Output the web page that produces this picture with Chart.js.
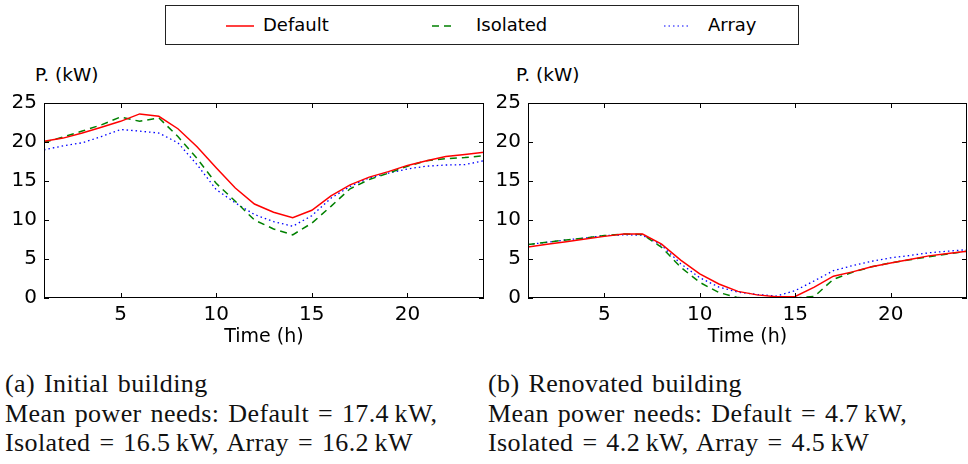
<!DOCTYPE html>
<html>
<head>
<meta charset="utf-8">
<script src="https://cdn.jsdelivr.net/npm/chart.js@4.4.1/dist/chart.umd.min.js"></script>
<style>
  body { margin: 0; background: #fff; width: 968px; height: 464px; position: relative; overflow: hidden; }
  canvas { position: absolute; }
  .ylab { position: absolute; font: 18.5px "DejaVu Sans"; color: #000; top: 64px; }
  .legend { position: absolute; left: 165px; top: 5px; width: 634px; height: 40px; border: 1px solid #222; box-sizing: border-box; }
  .legend span { position: absolute; font: 18px "DejaVu Sans"; top: 8px; }
  .legend svg { position: absolute; top: 0; }
  .caption { position: absolute; top: 369px; font: 26px "Liberation Serif"; letter-spacing: 0.4px; word-spacing: 2px; line-height: 29.5px; color: #111; white-space: nowrap; }
</style>
</head>
<body>

<div class="legend">
  <svg width="40" height="40" style="left:59px"><line x1="1" y1="20" x2="29" y2="20" stroke="#ff0000" stroke-width="1.5"/></svg>
  <span style="left:97px">Default</span>
  <svg width="40" height="40" style="left:265px"><line x1="1" y1="20" x2="24" y2="20" stroke="#008000" stroke-width="1.5" stroke-dasharray="7,5"/></svg>
  <span style="left:310px">Isolated</span>
  <svg width="40" height="40" style="left:497px"><line x1="1" y1="20" x2="27" y2="20" stroke="#0000ff" stroke-width="1.2" stroke-dasharray="1.5,3"/></svg>
  <span style="left:542px">Array</span>
</div>

<div class="ylab" style="left:35px">P. (kW)</div>
<div class="ylab" style="left:516px">P. (kW)</div>

<canvas id="initial" width="490" height="290" style="left:0; top:60px"></canvas>
<canvas id="renovated" width="490" height="290" style="left:478px; top:60px"></canvas>

<div class="caption" style="left:5px">(a) Initial building<br>Mean power needs: Default = 17.4&#8201;kW,<br>Isolated = 16.5&#8201;kW, Array = 16.2&#8201;kW</div>
<div class="caption" style="left:488px">(b) Renovated building<br>Mean power needs: Default = 4.7&#8201;kW,<br>Isolated = 4.2&#8201;kW, Array = 4.5&#8201;kW</div>

<script>
// hours of the day
const hours = [1, 2, 3, 4, 5, 6, 7, 8, 9, 10, 11, 12, 13, 14, 15, 16, 17, 18, 19, 20, 21, 22, 23, 24];
const xTicks = [5, 10, 15, 20];
const yTicks = [0, 5, 10, 15, 20, 25];

// initial building, power in kW
const initialDefault  = [20.1, 20.5, 21.15, 21.9, 22.65, 23.6, 23.3, 21.7, 19.4, 16.7, 14.1, 12.05, 11.0, 10.3, 11.25, 13.1, 14.5, 15.5, 16.2, 17.0, 17.6, 18.15, 18.4, 18.7];
const initialIsolated = [19.95, 20.65, 21.4, 22.2, 23.2, 22.65, 23.1, 20.7, 17.9, 14.7, 12.4, 10.0, 8.85, 8.1, 9.6, 11.75, 14.0, 15.2, 16.0, 16.9, 17.6, 17.85, 18.0, 18.25];
const initialArray    = [19.0, 19.5, 19.9, 20.7, 21.6, 21.4, 21.15, 19.9, 17.1, 13.9, 12.2, 10.7, 9.8, 9.2, 10.55, 12.8, 14.3, 15.4, 16.0, 16.55, 16.9, 17.05, 17.1, 17.6];

// renovated building, power in kW
const renovDefault  = [6.55, 6.9, 7.2, 7.55, 7.9, 8.2, 8.2, 6.9, 4.85, 3.1, 1.8, 0.85, 0.4, 0.15, 0.2, 1.4, 2.8, 3.35, 4.0, 4.5, 4.95, 5.4, 5.7, 6.0];
const renovIsolated = [6.85, 7.15, 7.45, 7.7, 8.0, 8.2, 8.15, 6.5, 3.95, 2.0, 0.7, 0.05, 0, 0, 0, 0.2, 2.4, 3.3, 4.0, 4.5, 4.9, 5.3, 5.65, 6.0];
const renovArray    = [6.85, 7.15, 7.45, 7.7, 8.0, 8.1, 8.05, 6.75, 4.4, 2.6, 1.4, 0.75, 0.45, 0.25, 0.95, 2.2, 3.5, 4.15, 4.7, 5.15, 5.45, 5.8, 6.0, 6.2];

// box around the plot with inward ticks on every side
const frame = {
  id: 'frame',
  afterDraw(chart) {
    const { ctx, chartArea: a, scales } = chart;
    const len = 5;
    ctx.save();
    ctx.strokeStyle = '#000';
    ctx.lineWidth = 1;
    ctx.strokeRect(a.left + 0.5, a.top + 0.5, a.right - a.left - 1, a.bottom - a.top - 1);
    ctx.beginPath();
    xTicks.forEach(v => {
      const x = Math.round(scales.x.getPixelForValue(v)) + 0.5;
      ctx.moveTo(x, a.bottom); ctx.lineTo(x, a.bottom - len);
      ctx.moveTo(x, a.top); ctx.lineTo(x, a.top + len);
    });
    yTicks.forEach(v => {
      const y = Math.round(scales.y.getPixelForValue(v)) + 0.5;
      ctx.moveTo(a.left, y); ctx.lineTo(a.left + len, y);
      ctx.moveTo(a.right, y); ctx.lineTo(a.right - len, y);
    });
    ctx.stroke();
    ctx.restore();
  }
};

function series(label, data, color, dash, width) {
  return {
    label, data,
    borderColor: color,
    borderWidth: width,
    borderDash: dash,
    pointRadius: 0,
    tension: 0,
    fill: false
  };
}

function makeChart(id, def, iso, arr, yWidth, padRight) {
  new Chart(document.getElementById(id), {
    type: 'line',
    data: {
      labels: hours,
      datasets: [
        series('Default', def, '#ff0000', [], 1.5),
        series('Isolated', iso, '#008000', [7, 5], 1.5),
        series('Array', arr, '#0000ff', [1.5, 3], 1.3)
      ]
    },
    options: {
      responsive: false,
      animation: false,
      devicePixelRatio: 1,
      layout: { padding: { top: 43, right: padRight, left: 0, bottom: 0 } },
      plugins: { legend: { display: false }, tooltip: { enabled: false } },
      scales: {
        x: {
          type: 'linear',
          min: 1, max: 24,
          grid: { display: false, drawTicks: false },
          border: { display: false },
          afterBuildTicks: s => { s.ticks = xTicks.map(v => ({ value: v })); },
          afterFit: s => { s.height = 52; },
          ticks: { color: '#000', font: { family: 'DejaVu Sans', size: 20 }, padding: 5, maxRotation: 0 },
          title: { display: true, text: 'Time (h)', color: '#000', font: { family: 'DejaVu Sans', size: 19 }, padding: { top: 0, bottom: 2 } }
        },
        y: {
          min: 0, max: 25,
          grid: { display: false, drawTicks: false },
          border: { display: false },
          afterBuildTicks: s => { s.ticks = yTicks.map(v => ({ value: v })); },
          afterFit: s => { s.width = yWidth; },
          ticks: { color: '#000', font: { family: 'DejaVu Sans', size: 20 }, padding: 7 }
        }
      }
    },
    plugins: [frame]
  });
}

makeChart('initial', initialDefault, initialIsolated, initialArray, 44, 6);
makeChart('renovated', renovDefault, renovIsolated, renovArray, 50, 1);
</script>
</body>
</html>
